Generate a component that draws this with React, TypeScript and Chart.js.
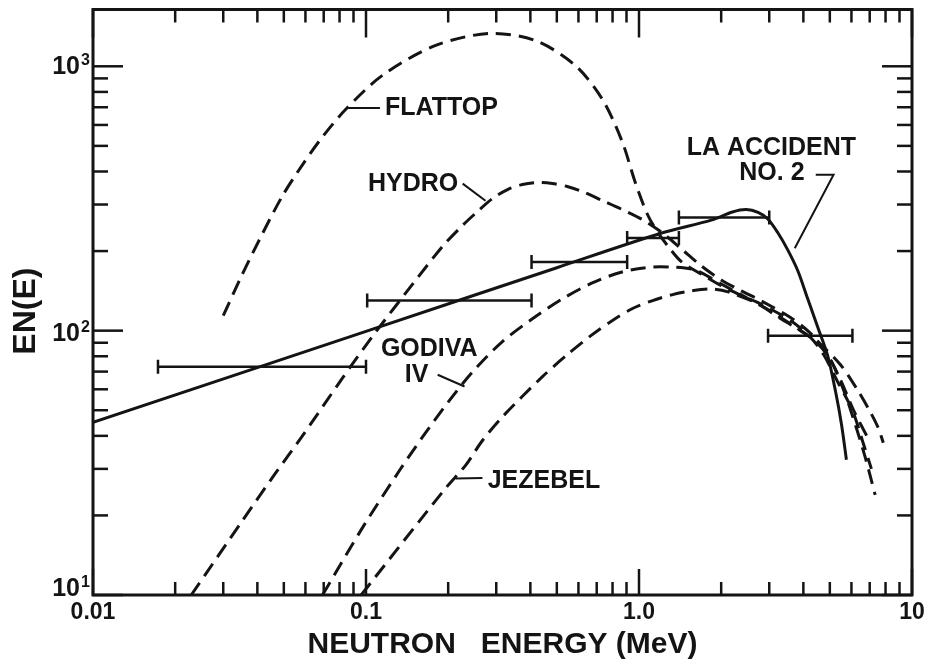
import React, { useEffect, useRef } from "react";
import { Chart, registerables } from "chart.js";

Chart.register(...registerables);

const INK = "#141414";
const FONT = '"Liberation Sans", Arial, sans-serif';

// ---- Series (x = neutron energy in MeV, y = EN(E)) ----
const flattopE = [0.030, 0.0350, 0.0408, 0.0493, 0.0585, 0.0693, 0.0845, 0.115, 0.18, 0.284, 0.417, 0.583, 0.733, 0.867, 0.967, 1.069, 1.163, 1.285, 1.433, 1.7, 2.0, 2.37, 2.8, 3.6, 4.26, 4.75, 5.36, 6.05, 6.57, 7.1];
const flattopN = [114, 161, 222, 322, 424, 541, 689, 925, 1200, 1331, 1252, 1009, 752, 520, 366, 278, 238, 207, 182, 163, 148, 136, 126, 109, 94, 81, 63.6, 50, 38.6, 30];

const hydroE = [0.0229, 0.035, 0.0464, 0.0585, 0.0822, 0.1088, 0.1484, 0.191, 0.226, 0.2563, 0.2908, 0.33, 0.374, 0.4243, 0.4815, 0.546, 0.6194, 0.7328, 0.867, 1.025, 1.21, 1.433, 1.695, 2.0, 2.37, 2.8, 3.6, 4.26, 4.83, 5.47, 6.1, 7.03];
const hydroN = [10, 18.9, 28.7, 40.0, 66.4, 99.1, 150.2, 208.7, 250.3, 282.5, 316.2, 341.8, 356.9, 363.2, 360, 350.9, 336, 310.8, 287.4, 263.8, 235.6, 203.4, 175.5, 155.5, 141.4, 129.7, 111.9, 97.4, 83.3, 65.2, 50.2, 37.7];

const godivaE = [0.0693, 0.0975, 0.133, 0.1614, 0.1992, 0.2458, 0.316, 0.407, 0.524, 0.674, 0.867, 1.115, 1.318, 1.558, 1.695, 2.0, 2.37, 2.8, 3.31, 3.91, 4.44, 5.03, 5.61, 6.2, 6.75, 7.33];
const godivaN = [10, 18.1, 29.7, 39.7, 53.4, 69.9, 90.9, 110.9, 131.9, 151.5, 166.7, 174, 174, 171.1, 165.3, 150.2, 136.6, 124.2, 110.9, 100, 90.9, 77.6, 59.8, 44.1, 33.0, 23.9];

const jezebelE = [0.096, 0.196, 0.232, 0.267, 0.316, 0.443, 0.546, 0.674, 0.797, 0.943, 1.115, 1.318, 1.558, 1.84, 2.12, 2.73, 3.31, 3.91, 4.63, 5.47, 6.31, 7.03, 7.52, 7.85];
const jezebelN = [10, 25.4, 31, 38.4, 47.2, 67, 81.1, 96.6, 109.1, 121, 129.7, 136.6, 141.4, 143.8, 140.2, 126.3, 111.9, 100, 88.5, 74.3, 59.8, 49.3, 42.9, 37.7];

const accidentE = [0.01, 0.1, 0.5, 1.21, 1.84, 2.2, 2.47, 2.73, 2.97, 3.23, 3.51, 3.82, 4.15, 4.51, 4.91, 5.25, 5.52, 5.75];
const accidentN = [45, 99.4, 173, 234, 262, 281, 287, 280, 264, 234, 201.6, 168.1, 131.9, 103.5, 80.4, 58.7, 44.1, 32.5];

// LA accident No. 2 measured bins (horizontal bars)
const binLo = [0.0173, 0.101, 0.404, 0.905, 1.40, 2.97];
const binHi = [0.1, 0.404, 0.905, 1.40, 3.0, 6.05];
const binN = [73, 130, 182, 224, 268, 95.7];

// ---- Axis ticks ----
const xMajorValues = [0.01, 0.1, 1, 10];
const xMajorLabels = ["0.01", "0.1", "1.0", "10"];
const yMajorValues = [10, 100, 1000];
const yMajorBase = ["10", "10", "10"];
const yMajorExp = ["1", "2", "3"];
const minorMultipliers = [1, 2, 3, 4, 5, 6, 7, 8, 9];

// ---- Curve labels (anchored in data coordinates) ----
const labelTexts = ["FLATTOP", "HYDRO", "LA ACCIDENT", "NO. 2", "GODIVA", "IV", "JEZEBEL"];
const labelE = [0.1173, 0.1017, 1.495, 2.33, 0.1134, 0.1388, 0.279];
const labelN = [695, 357, 492, 393, 85.5, 68.1, 27.0];

// Leader lines
const leaderFlattopE = [0.0858, 0.1125];
const leaderFlattopN = [695, 695];
const leaderHydroE = [0.226, 0.274];
const leaderHydroN = [360, 310];
const leaderAccidentE = [4.44, 5.16, 3.72];
const leaderAccidentN = [389, 389, 205];
const leaderGodivaE = [0.183, 0.2296];
const leaderGodivaN = [68.1, 61.5];
const leaderJezebelE = [0.213, 0.267];
const leaderJezebelN = [27.6, 27.7];

function tickValues(lo: number, hi: number): number[] {
  const out: number[] = [];
  for (let e = Math.round(Math.log10(lo)); e <= Math.round(Math.log10(hi)); e++) {
    for (const m of minorMultipliers) {
      const v = Number((m * Math.pow(10, e)).toPrecision(4));
      if (v >= lo * 0.9999 && v <= hi * 1.0001) out.push(v);
    }
  }
  return out;
}

const isPow10 = (v: number) => Math.abs(Math.log10(v) - Math.round(Math.log10(v))) < 1e-6;

const zip = (E: number[], N: number[]) => E.map((e, i) => ({ x: e, y: N[i] }));

const framePlugin = {
  id: "frameAndLabels",
  afterDatasetsDraw(chart: any) {
    const { ctx, chartArea: a, scales } = chart;
    const xs = scales.x;
    const ys = scales.y;
    ctx.save();
    ctx.strokeStyle = INK;
    ctx.lineCap = "butt";
    ctx.lineWidth = 3;
    ctx.strokeRect(a.left, a.top, a.right - a.left, a.bottom - a.top);
    ctx.lineWidth = 2.5;
    const seg = (x1: number, y1: number, x2: number, y2: number) => {
      ctx.beginPath();
      ctx.moveTo(x1, y1);
      ctx.lineTo(x2, y2);
      ctx.stroke();
    };
    xs.ticks.forEach((t: any) => {
      const px = xs.getPixelForValue(t.value);
      const major = isPow10(t.value);
      seg(px, a.bottom, px, a.bottom - (major ? 26 : 13));
      seg(px, a.top, px, a.top + (major ? 28 : 13));
    });
    ys.ticks.forEach((t: any) => {
      const py = ys.getPixelForValue(t.value);
      const major = isPow10(t.value);
      seg(a.left, py, a.left + (major ? 30 : 15), py);
      seg(a.right, py, a.right - (major ? 30 : 15), py);
    });
    ctx.fillStyle = INK;

    // y tick labels: "10" with a raised exponent
    yMajorValues.forEach((v, i) => {
      let cy = ys.getPixelForValue(v);
      if (Math.abs(v - ys.min) < 1e-9) cy -= 7; // keep clear of the x labels
      if (Math.abs(v - 100) < 1e-9) cy += 2;
      const right = a.left - 13;
      ctx.font = `bold 25px ${FONT}`;
      ctx.textAlign = "right";
      ctx.textBaseline = "middle";
      ctx.fillText(yMajorBase[i], right, cy + 1);
      ctx.font = `bold 16px ${FONT}`;
      ctx.textAlign = "left";
      ctx.textBaseline = "alphabetic";
      ctx.fillText(yMajorExp[i], right + 1, cy - 1);
    });

    ctx.font = `bold 25px ${FONT}`;
    ctx.textAlign = "left";
    ctx.textBaseline = "middle";
    labelTexts.forEach((s, i) => {
      ctx.fillText(s, xs.getPixelForValue(labelE[i]), ys.getPixelForValue(labelN[i]));
    });
    ctx.restore();
  },
};

export default function App() {
  const ref = useRef<HTMLCanvasElement | null>(null);

  useEffect(() => {
    if (!ref.current) return;
    const dashed = (label: string, E: number[], N: number[]) => ({
      label,
      data: zip(E, N),
      borderColor: INK,
      borderWidth: 3,
      borderDash: [15, 8],
      pointRadius: 0,
      fill: false,
      tension: 0.3,
    });
    const leader = (label: string, E: number[], N: number[]) => ({
      label,
      data: zip(E, N),
      borderColor: INK,
      borderWidth: 2,
      pointRadius: 0,
      fill: false,
      tension: 0,
    });
    const bars = binLo.map((lo, i) => ({
      label: `bin${i}`,
      data: [
        { x: lo, y: binN[i] },
        { x: binHi[i], y: binN[i] },
      ],
      borderColor: INK,
      borderWidth: 2.5,
      pointStyle: "line" as const,
      pointRotation: 90,
      pointRadius: 7,
      pointBorderWidth: 2.5,
      pointBorderColor: INK,
      pointBackgroundColor: INK,
      fill: false,
      tension: 0,
    }));

    const xTicks = tickValues(0.01, 10);
    const yTicks = tickValues(10, 1000);

    const chart = new Chart(ref.current, {
      type: "line",
      data: {
        datasets: [
          dashed("FLATTOP", flattopE, flattopN),
          dashed("HYDRO", hydroE, hydroN),
          dashed("GODIVA IV", godivaE, godivaN),
          dashed("JEZEBEL", jezebelE, jezebelN),
          {
            label: "LA ACCIDENT NO. 2",
            data: zip(accidentE, accidentN),
            borderColor: INK,
            borderWidth: 3,
            pointRadius: 0,
            fill: false,
            tension: 0.3,
          },
          ...bars,
          leader("l1", leaderFlattopE, leaderFlattopN),
          leader("l2", leaderHydroE, leaderHydroN),
          leader("l3", leaderAccidentE, leaderAccidentN),
          leader("l4", leaderGodivaE, leaderGodivaN),
          leader("l5", leaderJezebelE, leaderJezebelN),
        ] as any,
      },
      options: {
        animation: false,
        responsive: false,
        maintainAspectRatio: false,
        layout: { padding: { left: 0, top: 7, right: 17, bottom: 0 } },
        plugins: {
          legend: { display: false },
          tooltip: { enabled: false },
        },
        scales: {
          x: {
            type: "logarithmic",
            min: 0.01,
            max: 10,
            afterBuildTicks: (s: any) => {
              s.ticks = xTicks.map((v) => ({ value: v }));
            },
            afterFit: (s: any) => {
              s.height = 69;
            },
            grid: { display: false, drawTicks: false },
            border: { display: false },
            ticks: {
              autoSkip: false,
              maxRotation: 0,
              padding: 4,
              color: INK,
              font: { family: FONT, size: 23, weight: "bold", lineHeight: 1.2 },
              callback: (v: any) => {
                const i = xMajorValues.findIndex((m) => Math.abs(m - Number(v)) < 1e-9 * m + 1e-12);
                return i >= 0 ? xMajorLabels[i] : "";
              },
            },
            title: {
              display: true,
              text: "NEUTRON   ENERGY (MeV)",
              color: INK,
              font: { family: FONT, size: 30, weight: "bold", lineHeight: 1.2 },
              padding: { top: 0, bottom: 1 },
            },
          },
          y: {
            type: "logarithmic",
            min: 10,
            max: 1640,
            afterBuildTicks: (s: any) => {
              s.ticks = yTicks.map((v) => ({ value: v }));
            },
            afterFit: (s: any) => {
              s.width = 93;
            },
            grid: { display: false, drawTicks: false },
            border: { display: false },
            ticks: { display: false },
            title: {
              display: true,
              text: "EN(E)  ",
              color: INK,
              font: { family: FONT, size: 32, weight: "bold", lineHeight: 1.2 },
              padding: { top: 7, bottom: 0 },
            },
          },
        },
      },
      plugins: [framePlugin],
    } as any);
    return () => chart.destroy();
  }, []);

  return (
    <div style={{ position: "absolute", left: 0, top: 0, width: 929, height: 664, background: "#fff" }}>
      <canvas ref={ref} width={929} height={664} style={{ display: "block" }} />
    </div>
  );
}
